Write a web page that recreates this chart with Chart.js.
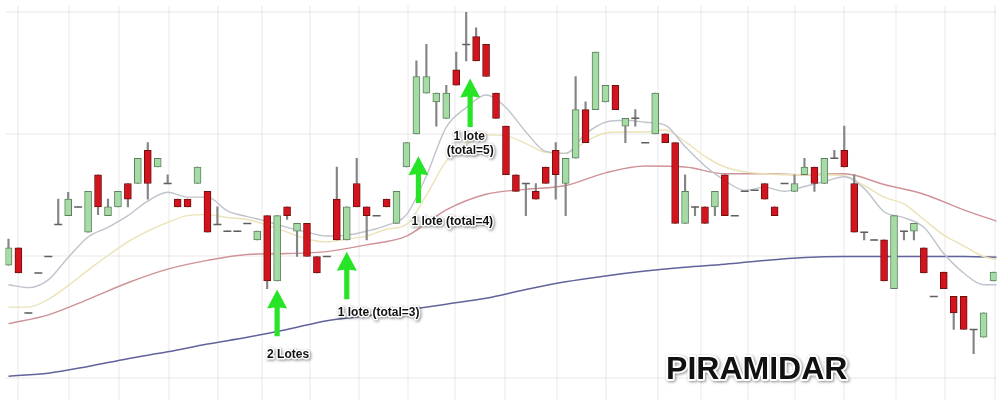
<!DOCTYPE html>
<html><head><meta charset="utf-8">
<script src="https://cdn.jsdelivr.net/npm/chart.js@4.4.0/dist/chart.umd.min.js"></script>
<style>html,body{margin:0;padding:0;background:#fff;overflow:hidden}#wrap{width:1002px;height:405px;position:relative}</style>
</head><body><div id="wrap"><canvas id="c"></canvas></div>
<script>
// OHLC price readings (one per session)
const openP = [138,156,89,130,147,180,189,198,172,231,
 189,198,222,222,256,239,222,206,206,222,
 214,180,173,173,181,164,189,122,198,173,
 181,147,147,206,164,222,198,189,206,181,
 239,273,315,306,289,339,365,373,365,315,
 281,231,222,214,239,256,222,248,298,298,
 306,323,281,289,264,273,273,264,181,198,
 198,198,231,189,214,215,222,198,222,214,
 231,239,222,248,256,222,172,164,164,114,
 173,173,156,106,131,106,106,72,64,122];
const highP = [165,156,89,130,147,206,213,198,214,231,
 206,214,222,248,264,248,231,206,206,239,
 214,198,173,173,181,173,189,189,198,181,
 181,147,147,239,198,248,198,189,206,214,
 264,348,365,315,323,357,398,382,365,315,
 281,231,222,222,239,264,248,332,306,357,
 323,323,289,298,264,315,273,264,231,198,
 198,214,231,189,214,215,222,198,222,231,
 248,239,248,256,281,231,172,164,164,189,
 173,181,156,106,131,106,106,72,89,131];
const lowP = [138,130,89,130,147,180,189,198,172,190,
 189,198,198,222,206,239,222,198,198,222,
 172,180,173,173,181,164,114,122,185,147,
 147,130,147,164,164,198,164,189,198,181,
 239,273,315,281,289,323,348,348,332,289,
 231,214,189,206,222,206,189,248,264,298,
 306,298,264,281,264,273,264,181,181,189,
 181,189,189,189,214,215,206,189,222,214,
 231,214,222,248,239,172,164,164,122,114,
 164,164,130,106,114,72,72,47,64,122];
const closeP = [156,130,89,130,147,180,206,198,214,198,
 198,214,206,248,222,248,222,198,198,239,
 172,180,173,173,181,173,122,189,189,181,
 147,130,147,164,198,198,189,189,198,214,
 264,332,332,315,315,323,365,348,332,289,
 231,214,222,206,222,231,248,298,264,357,
 323,298,289,289,264,315,264,181,214,198,
 181,214,189,189,214,215,206,189,222,222,
 239,222,248,248,239,172,172,164,122,189,
 173,181,130,106,114,89,72,72,89,131];

// Moving averages (fast/mid every 2 sessions, slow every 4)
const maFastStep = 2;
const maFast = [118,115,123,146,167,177,189,204,213,208,
 208,194,188,183,177,172,168,169,173,179,
 190,230,280,300,313,300,275,255,253,273,
 285,287,285,282,260,240,225,215,218,214,
 219,224,229,217,193,187,177,150,130,118,118];
const maMid = [95,95,103,117,133,148,162,173,182,189,
 190,187,185,179,172,165,162,165,168,175,
 180,210,245,262,272,271,263,254,253,265,
 274,275,275,277,265,250,239,234,232,231,
 231,231,230,220,208,201,185,169,158,147,143];
const maSlowStep = 4;
const maSlow = [78,87,103,120,134,143,149,150,152,159,168,195,211,216,220,233,240,239,232,232,231,232,221,211,195,181];
const maLong = [24,27,34,42,49,57,64,72,81,86,92,98,104,113,121,127,132,136,139,143,146,147,147,147,147,146];

// grid tick values
const xGridTicks = [1,6.1,11.1,16.1,21.1,25.5,30.3,35.2,40.2,44.9,49.9,55.1,60.1,65.3,69.6,74.3,79,84,89.2,94.1,99.1];
const yGridTicks = [22,147.5,273,398.5];

// annotations (session index, price)
const arrows = [
  {i:27, tip:113, tail:65},
  {i:34, tip:152, tail:103},
  {i:41.2, tip:250, tail:202},
  {i:46.4, tip:330, tail:280}
];
const notes = [
  {i:28.1, p:46, text:'2 Lotes'},
  {i:37.2, p:89, text:'1 lote (total=3)'},
  {i:44.6, p:183, text:'1 lote (total=4)'},
  {i:46.3, p:270, text:'1 lote'},
  {i:46.4, p:256, text:'(total=5)'}
];
const title = {i:75.2, p:30, text:'PIRAMIDAR'};

const wickData=[], upBody=[], downBody=[], dojiData=[];
for (let i=0;i<openP.length;i++){
  wickData.push({x:i,y:[lowP[i],highP[i]]});
  if (closeP[i]>openP[i]) upBody.push({x:i,y:[openP[i],closeP[i]]});
  else if (closeP[i]<openP[i]) downBody.push({x:i,y:[closeP[i],openP[i]]});
  else dojiData.push({x:i,y:closeP[i]});
}
const toXY=(arr,step)=>arr.map((v,k)=>({x:k*step,y:v}));

const annot = {
  id:'annot',
  afterDatasetsDraw(chart){
    const ctx=chart.ctx, xs=chart.scales.x, ys=chart.scales.y;
    ctx.save();
    arrows.forEach(a=>{
      const x=xs.getPixelForValue(a.i), t=ys.getPixelForValue(a.tip), b=ys.getPixelForValue(a.tail);
      const hl=19, hw=10, sw=2.6;
      ctx.beginPath();
      ctx.moveTo(x,t);
      ctx.lineTo(x+hw,t+hl);
      ctx.lineTo(x+sw,t+hl-1);
      ctx.lineTo(x+sw,b);
      ctx.lineTo(x-sw,b);
      ctx.lineTo(x-sw,t+hl-1);
      ctx.lineTo(x-hw,t+hl);
      ctx.closePath();
      ctx.fillStyle='#27e427';
      ctx.fill();
    });
    const drawText=(txt,x,y,size,sw)=>{
      ctx.font='bold '+size+'px "Liberation Sans", Arial, sans-serif';
      ctx.textAlign='center'; ctx.textBaseline='middle';
      ctx.lineJoin='round';
      ctx.shadowColor='rgba(0,0,0,0.45)'; ctx.shadowBlur=3; ctx.shadowOffsetX=1; ctx.shadowOffsetY=1;
      ctx.strokeStyle='#fff'; ctx.lineWidth=sw; ctx.strokeText(txt,x,y);
      ctx.shadowColor='transparent'; ctx.shadowBlur=0; ctx.shadowOffsetX=0; ctx.shadowOffsetY=0;
      ctx.fillStyle='#111'; ctx.fillText(txt,x,y);
    };
    notes.forEach(n=>drawText(n.text,xs.getPixelForValue(n.i),ys.getPixelForValue(n.p),12,3));
    drawText(title.text,xs.getPixelForValue(title.i),ys.getPixelForValue(title.p),32,4);
    ctx.restore();
  }
};

new Chart(document.getElementById('c'),{
  type:'bar',
  data:{datasets:[
    {type:'line',data:toXY(maLong,maSlowStep),borderColor:'#62629c',borderWidth:1.5,pointRadius:0,tension:0.4,cubicInterpolationMode:'monotone',order:10},
    {type:'line',data:toXY(maSlow,maSlowStep),borderColor:'#cf9296',borderWidth:1.4,pointRadius:0,tension:0.4,cubicInterpolationMode:'monotone',order:9},
    {type:'line',data:toXY(maMid,maFastStep),borderColor:'#ebe2b6',borderWidth:1.4,pointRadius:0,tension:0.4,cubicInterpolationMode:'monotone',order:8},
    {type:'line',data:toXY(maFast,maFastStep),borderColor:'#bfc3cc',borderWidth:1.4,pointRadius:0,tension:0.4,cubicInterpolationMode:'monotone',order:7},
    {type:'bar',data:wickData,backgroundColor:'#858585',barThickness:1.5,grouped:false,order:3},
    {type:'bar',data:upBody,backgroundColor:'#a5dca5',borderColor:'#5f7f5f',borderWidth:1,borderSkipped:false,barThickness:7,grouped:false,order:2},
    {type:'bar',data:downBody,backgroundColor:'#d3131d',borderColor:'#6e1010',borderWidth:1,borderSkipped:false,barThickness:7,grouped:false,order:2},
    {type:'scatter',data:dojiData,pointStyle:'line',pointRadius:4,borderColor:'#5f5f5f',borderWidth:1.5,order:1}
  ]},
  options:{
    responsive:true,maintainAspectRatio:false,animation:false,
    layout:{padding:0},
    plugins:{legend:{display:false},tooltip:{enabled:false}},
    scales:{
      x:{type:'linear',min:-0.3,max:99.3,offset:false,
        grid:{offset:false,color:'rgba(0,0,0,0.045)',lineWidth:2,drawTicks:false},
        border:{display:false},ticks:{display:false},
        afterBuildTicks:s=>{s.ticks=xGridTicks.map(v=>({value:v}));}},
      y:{type:'linear',min:0,max:405,
        grid:{color:'rgba(0,0,0,0.045)',lineWidth:2,drawTicks:false},
        border:{display:false},ticks:{display:false},
        afterBuildTicks:s=>{s.ticks=yGridTicks.map(v=>({value:v}));}}
    }
  },
  plugins:[annot]
});
</script></body></html>
